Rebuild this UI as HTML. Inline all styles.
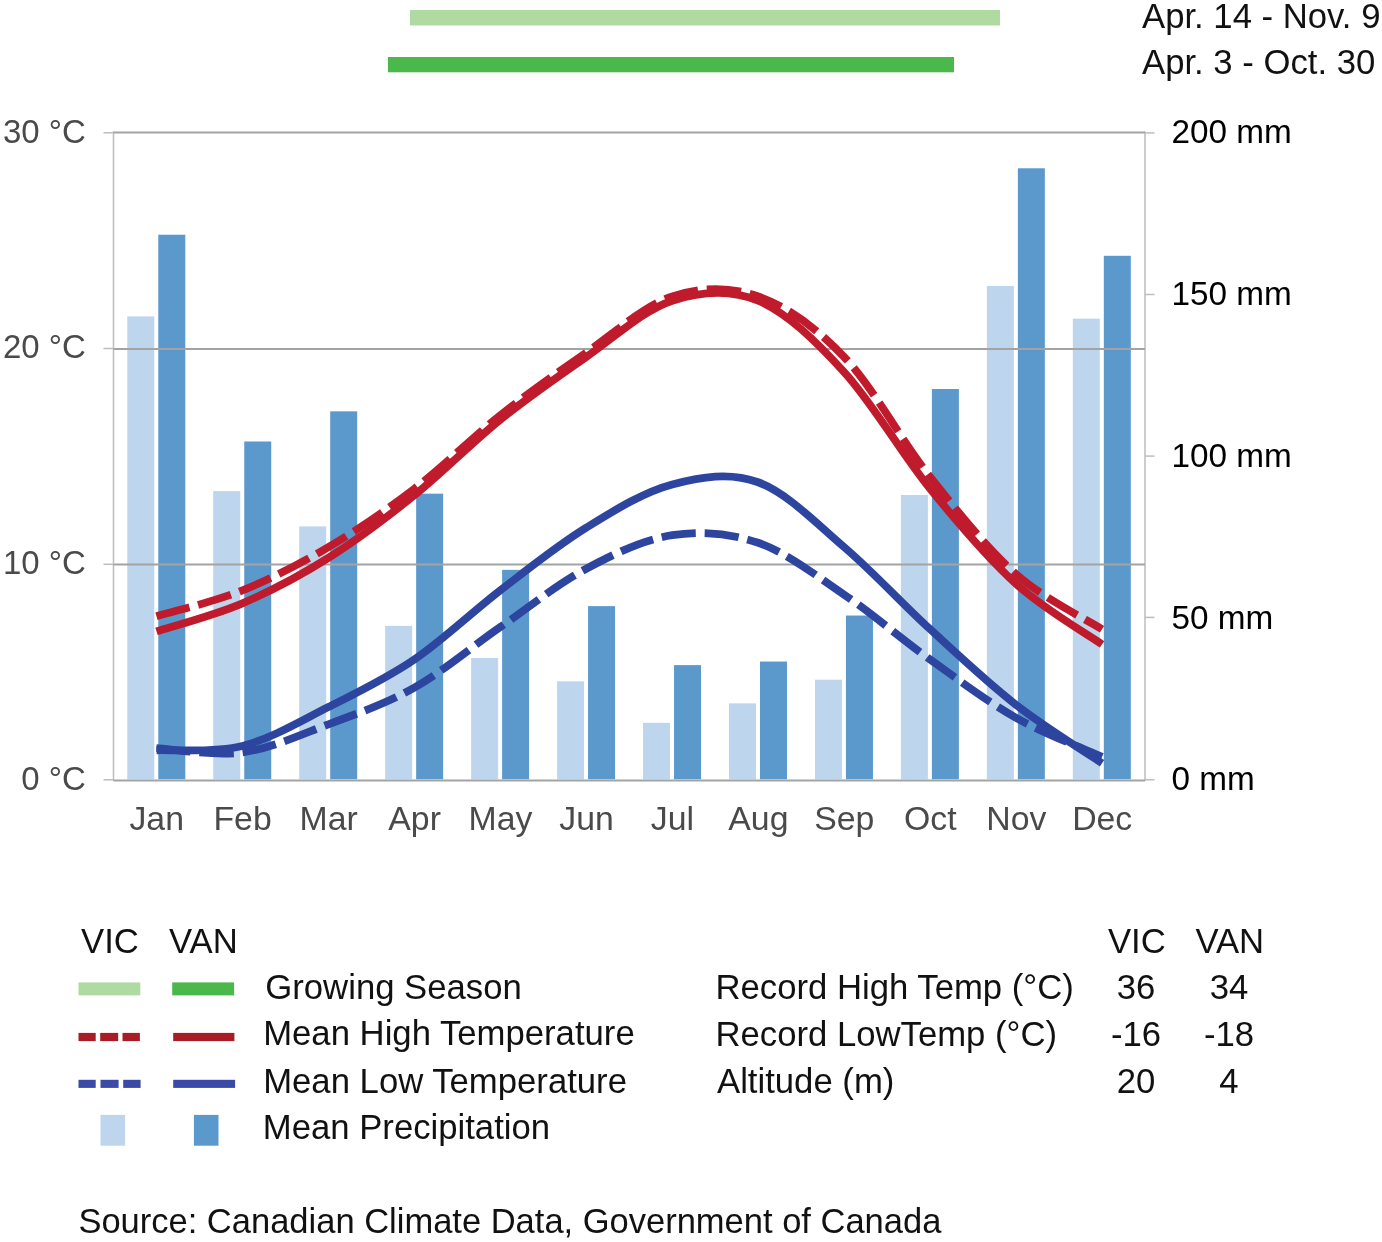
<!DOCTYPE html>
<html><head><meta charset="utf-8"><title>Climate chart</title>
<style>
html,body{margin:0;padding:0;background:#fff;}
body{width:1382px;height:1242px;overflow:hidden;}
svg{display:block;will-change:transform;font-family:"Liberation Sans",sans-serif;}
</style></head><body>
<svg width="1382" height="1242" viewBox="0 0 1382 1242">
<rect width="1382" height="1242" fill="#fff"/>
<rect x="127.28" y="316.39" width="27" height="462.91" fill="#bdd6ed"/>
<rect x="158.28" y="234.72" width="27" height="544.58" fill="#5b99cd"/>
<rect x="213.24" y="491.08" width="27" height="288.22" fill="#bdd6ed"/>
<rect x="244.24" y="441.49" width="27" height="337.81" fill="#5b99cd"/>
<rect x="299.20" y="526.41" width="27" height="252.89" fill="#bdd6ed"/>
<rect x="330.20" y="411.35" width="27" height="367.95" fill="#5b99cd"/>
<rect x="385.15" y="625.90" width="27" height="153.40" fill="#bdd6ed"/>
<rect x="416.15" y="493.67" width="27" height="285.63" fill="#5b99cd"/>
<rect x="471.11" y="657.99" width="27" height="121.31" fill="#bdd6ed"/>
<rect x="502.11" y="569.84" width="27" height="209.46" fill="#5b99cd"/>
<rect x="557.07" y="681.33" width="27" height="97.97" fill="#bdd6ed"/>
<rect x="588.07" y="606.13" width="27" height="173.17" fill="#5b99cd"/>
<rect x="643.03" y="722.81" width="27" height="56.49" fill="#bdd6ed"/>
<rect x="674.03" y="665.12" width="27" height="114.18" fill="#5b99cd"/>
<rect x="728.99" y="703.36" width="27" height="75.94" fill="#bdd6ed"/>
<rect x="759.99" y="661.56" width="27" height="117.74" fill="#5b99cd"/>
<rect x="814.95" y="679.70" width="27" height="99.60" fill="#bdd6ed"/>
<rect x="845.95" y="615.53" width="27" height="163.77" fill="#5b99cd"/>
<rect x="900.90" y="494.97" width="27" height="284.33" fill="#bdd6ed"/>
<rect x="931.90" y="388.99" width="27" height="390.31" fill="#5b99cd"/>
<rect x="986.86" y="285.92" width="27" height="493.38" fill="#bdd6ed"/>
<rect x="1017.86" y="168.28" width="27" height="611.02" fill="#5b99cd"/>
<rect x="1072.82" y="318.66" width="27" height="460.64" fill="#bdd6ed"/>
<rect x="1103.82" y="255.78" width="27" height="523.52" fill="#5b99cd"/>
<line x1="113.5" y1="131.5" x2="113.5" y2="781" stroke="#bdbdbd" stroke-width="1.5"/>
<line x1="1145.0" y1="131.5" x2="1145.0" y2="781" stroke="#bdbdbd" stroke-width="1.5"/>
<line x1="103.5" y1="132.80" x2="113.5" y2="132.80" stroke="#bdbdbd" stroke-width="1.5"/>
<line x1="103.5" y1="348.50" x2="113.5" y2="348.50" stroke="#bdbdbd" stroke-width="1.5"/>
<line x1="103.5" y1="564.30" x2="113.5" y2="564.30" stroke="#bdbdbd" stroke-width="1.5"/>
<line x1="103.5" y1="779.80" x2="113.5" y2="779.80" stroke="#bdbdbd" stroke-width="1.5"/>
<line x1="1145.0" y1="132.90" x2="1154.5" y2="132.90" stroke="#bdbdbd" stroke-width="1.5"/>
<line x1="1145.0" y1="294.50" x2="1154.5" y2="294.50" stroke="#bdbdbd" stroke-width="1.5"/>
<line x1="1145.0" y1="456.10" x2="1154.5" y2="456.10" stroke="#bdbdbd" stroke-width="1.5"/>
<line x1="1145.0" y1="617.40" x2="1154.5" y2="617.40" stroke="#bdbdbd" stroke-width="1.5"/>
<line x1="1145.0" y1="779.80" x2="1154.5" y2="779.80" stroke="#bdbdbd" stroke-width="1.5"/>
<line x1="113.5" y1="132.40" x2="1145.0" y2="132.40" stroke="#a3a3a3" stroke-width="2"/>
<line x1="113.5" y1="349.00" x2="1145.0" y2="349.00" stroke="#a3a3a3" stroke-width="2"/>
<line x1="113.5" y1="564.60" x2="1145.0" y2="564.60" stroke="#a3a3a3" stroke-width="2"/>
<line x1="113.5" y1="780.50" x2="1145.0" y2="780.50" stroke="#a3a3a3" stroke-width="2"/>
<path d="M156.48,631.39 C170.81,626.71 213.78,615.54 242.44,603.30 C271.09,591.05 299.74,575.93 328.40,557.92 C357.05,539.91 385.70,518.30 414.35,495.25 C443.01,472.20 471.66,442.66 500.31,419.61 C528.97,396.56 557.62,376.75 586.27,356.94 C614.92,337.13 643.58,310.12 672.23,300.76 C700.88,291.39 729.53,288.87 758.19,300.76 C786.84,312.64 815.49,340.74 844.15,372.07 C872.80,403.41 901.45,453.47 930.10,488.76 C958.76,524.06 987.41,557.92 1016.06,583.85 C1044.72,609.78 1087.69,634.27 1102.02,644.36" fill="none" stroke="#c01b2c" stroke-width="7.8"/>
<path d="M156.48,616.26 C170.81,611.94 213.78,601.86 242.44,590.33 C271.09,578.81 299.74,564.04 328.40,547.11 C357.05,530.18 385.70,510.74 414.35,488.76 C443.01,466.79 471.66,437.98 500.31,415.29 C528.97,392.60 557.62,372.43 586.27,352.62 C614.92,332.81 643.58,305.80 672.23,296.44 C700.88,287.07 729.53,286.35 758.19,296.44 C786.84,306.52 815.49,326.87 844.15,356.94 C872.80,387.02 901.45,440.68 930.10,476.88 C958.76,513.08 987.41,548.73 1016.06,574.12 C1044.72,599.52 1087.69,620.05 1102.02,629.23" fill="none" stroke="#c01b2c" stroke-width="7.8" stroke-dasharray="34.3 8.9"/>
<path d="M156.48,750.25 C170.81,749.53 213.78,753.13 242.44,745.92 C271.09,738.72 299.74,721.43 328.40,707.03 C357.05,692.62 385.70,678.93 414.35,659.48 C443.01,640.04 471.66,612.30 500.31,590.33 C528.97,568.36 557.62,545.31 586.27,527.66 C614.92,510.01 643.58,492.01 672.23,484.44 C700.88,476.88 729.53,471.84 758.19,482.28 C786.84,492.73 815.49,522.62 844.15,547.11 C872.80,571.60 901.45,602.94 930.10,629.23 C958.76,655.52 987.41,682.53 1016.06,704.87 C1044.72,727.20 1087.69,753.49 1102.02,763.21" fill="none" stroke="#2e45a0" stroke-width="7.8"/>
<path d="M156.48,748.09 C170.81,748.81 213.78,756.37 242.44,752.41 C271.09,748.45 299.74,735.12 328.40,724.31 C357.05,713.51 385.70,703.78 414.35,687.58 C443.01,671.37 471.66,646.88 500.31,627.07 C528.97,607.26 557.62,584.03 586.27,568.72 C614.92,553.41 643.58,539.55 672.23,535.23 C700.88,530.90 729.53,532.89 758.19,542.79 C786.84,552.69 815.49,575.20 844.15,594.65 C872.80,614.10 901.45,638.95 930.10,659.48 C958.76,680.01 987.41,701.62 1016.06,717.83 C1044.72,734.04 1087.69,750.25 1102.02,756.73" fill="none" stroke="#2e45a0" stroke-width="7.8" stroke-dasharray="34.3 8.9"/>
<rect x="410" y="10" width="590" height="15.5" fill="#afdba3"/>
<rect x="388" y="57" width="566" height="15.3" fill="#4ab84a"/>
<rect x="78.5" y="982.4" width="61.8" height="13" fill="#afdba3"/>
<rect x="172.2" y="982.4" width="61.9" height="13" fill="#4ab84a"/>
<rect x="78.5" y="1032.9" width="17.2" height="8.2" fill="#a81d25"/>
<rect x="100.2" y="1032.9" width="18.0" height="8.2" fill="#a81d25"/>
<rect x="122.5" y="1032.9" width="17.4" height="8.2" fill="#a81d25"/>
<rect x="173.2" y="1032.9" width="61.2" height="8.2" fill="#a81d25"/>
<rect x="78.5" y="1079.8" width="17.2" height="8.1" fill="#3a4aa6"/>
<rect x="100.5" y="1079.8" width="18.1" height="8.1" fill="#3a4aa6"/>
<rect x="123.2" y="1079.8" width="17.4" height="8.1" fill="#3a4aa6"/>
<rect x="173.2" y="1079.8" width="61.9" height="8.1" fill="#3a4aa6"/>
<rect x="100.5" y="1114.9" width="24.6" height="30.8" fill="#bdd6ed"/>
<rect x="193.9" y="1114.9" width="24.6" height="30.8" fill="#5b99cd"/>
<text x="85.8" y="142.6" font-size="33" fill="#4a4a4a" text-anchor="end">30 °C</text>
<text x="85.8" y="358.2" font-size="33" fill="#4a4a4a" text-anchor="end">20 °C</text>
<text x="85.8" y="574.3" font-size="33" fill="#4a4a4a" text-anchor="end">10 °C</text>
<text x="85.8" y="789.6" font-size="33" fill="#4a4a4a" text-anchor="end">0 °C</text>
<text x="1171.5" y="142.9" font-size="33.3" fill="#000" text-anchor="start">200 mm</text>
<text x="1171.5" y="304.7" font-size="33.3" fill="#000" text-anchor="start">150 mm</text>
<text x="1171.5" y="466.9" font-size="33.3" fill="#000" text-anchor="start">100 mm</text>
<text x="1171.5" y="628.6" font-size="33.3" fill="#000" text-anchor="start">50 mm</text>
<text x="1171.5" y="789.6" font-size="33.3" fill="#000" text-anchor="start">0 mm</text>
<text x="156.7" y="829.9" font-size="33.8" fill="#4a4a4a" text-anchor="middle">Jan</text>
<text x="242.6" y="829.9" font-size="33.8" fill="#4a4a4a" text-anchor="middle">Feb</text>
<text x="328.6" y="829.9" font-size="33.8" fill="#4a4a4a" text-anchor="middle">Mar</text>
<text x="414.6" y="829.9" font-size="33.8" fill="#4a4a4a" text-anchor="middle">Apr</text>
<text x="500.5" y="829.9" font-size="33.8" fill="#4a4a4a" text-anchor="middle">May</text>
<text x="586.5" y="829.9" font-size="33.8" fill="#4a4a4a" text-anchor="middle">Jun</text>
<text x="672.4" y="829.9" font-size="33.8" fill="#4a4a4a" text-anchor="middle">Jul</text>
<text x="758.4" y="829.9" font-size="33.8" fill="#4a4a4a" text-anchor="middle">Aug</text>
<text x="844.3" y="829.9" font-size="33.8" fill="#4a4a4a" text-anchor="middle">Sep</text>
<text x="930.3" y="829.9" font-size="33.8" fill="#4a4a4a" text-anchor="middle">Oct</text>
<text x="1016.3" y="829.9" font-size="33.8" fill="#4a4a4a" text-anchor="middle">Nov</text>
<text x="1102.2" y="829.9" font-size="33.8" fill="#4a4a4a" text-anchor="middle">Dec</text>
<text x="1142" y="28.3" font-size="34.7" fill="#111" text-anchor="start">Apr. 14 - Nov. 9</text>
<text x="1142" y="74.2" font-size="34.7" fill="#111" text-anchor="start">Apr. 3 - Oct. 30</text>
<text x="81" y="953" font-size="34.7" fill="#111" text-anchor="start">VIC</text>
<text x="169" y="953" font-size="34.7" fill="#111" text-anchor="start">VAN</text>
<text x="265.3" y="999" font-size="34.7" fill="#111" text-anchor="start">Growing Season</text>
<text x="263.2" y="1045.1" font-size="34.7" fill="#111" text-anchor="start">Mean High Temperature</text>
<text x="263.2" y="1093" font-size="34.7" fill="#111" text-anchor="start">Mean Low Temperature</text>
<text x="262.8" y="1139.1" font-size="34.7" fill="#111" text-anchor="start">Mean Precipitation</text>
<text x="715.5" y="999" font-size="34.7" fill="#111" text-anchor="start">Record High Temp (°C)</text>
<text x="715.5" y="1045.5" font-size="34.7" fill="#111" text-anchor="start">Record LowTemp (°C)</text>
<text x="717" y="1092.7" font-size="34.7" fill="#111" text-anchor="start">Altitude (m)</text>
<text x="1136.8" y="953.1" font-size="34.7" fill="#111" text-anchor="middle">VIC</text>
<text x="1229.8" y="953.1" font-size="34.7" fill="#111" text-anchor="middle">VAN</text>
<text x="1136" y="999" font-size="34.7" fill="#111" text-anchor="middle">36</text>
<text x="1229" y="999" font-size="34.7" fill="#111" text-anchor="middle">34</text>
<text x="1136" y="1045.5" font-size="34.7" fill="#111" text-anchor="middle">-16</text>
<text x="1229" y="1045.5" font-size="34.7" fill="#111" text-anchor="middle">-18</text>
<text x="1136" y="1092.7" font-size="34.7" fill="#111" text-anchor="middle">20</text>
<text x="1229" y="1092.7" font-size="34.7" fill="#111" text-anchor="middle">4</text>
<text x="78.4" y="1233.0" font-size="34.5" fill="#111" text-anchor="start">Source: Canadian Climate Data, Government of Canada</text>
</svg>
</body></html>
